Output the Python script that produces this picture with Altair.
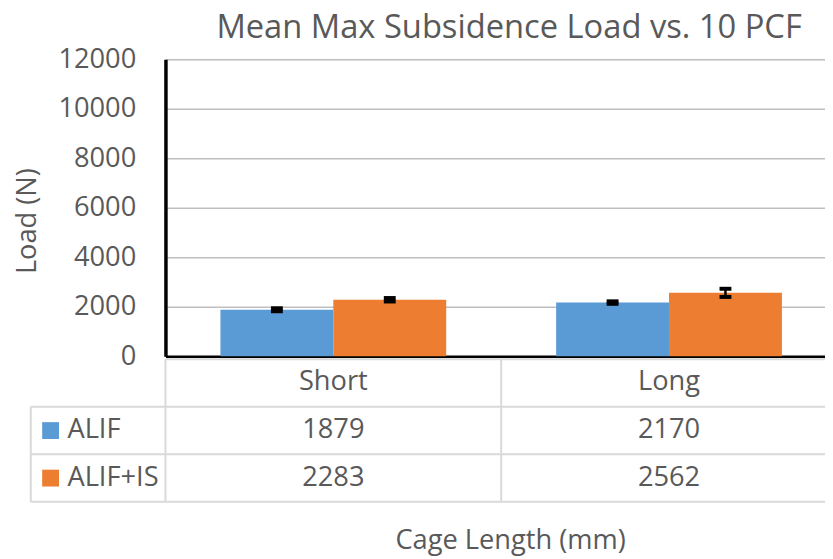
import altair as alt
import pandas as pd

categories = ["Short", "Long"]
series = ["ALIF", "ALIF+IS"]
alif_mean = [1879, 2170]
alif_is_mean = [2283, 2562]
alif_err = [60, 50]
alif_is_err = [70, 165]
y_ticks = [0, 2000, 4000, 6000, 8000, 10000, 12000]
colors = ["#5B9BD5", "#ED7D31"]

rows = []
for i, c in enumerate(categories):
    rows.append(dict(cat=c, series="ALIF", value=alif_mean[i], err=alif_err[i]))
    rows.append(dict(cat=c, series="ALIF+IS", value=alif_is_mean[i], err=alif_is_err[i]))
df = pd.DataFrame(rows)
df["lo"] = df["value"] - df["err"]
df["hi"] = df["value"] + df["err"]
df["label"] = df["value"].astype(str)
cats_df = pd.DataFrame({"cat": categories})

FONT = "Open Sans"
TXT = "#595959"
GRID = "#BFBFBF"
TABLE = "#D9D9D9"
FS = 27.5

x_scale = alt.Scale(domain=categories, range=[0, 678], paddingInner=0, paddingOuter=0)
x_axis = alt.Axis(
    title="Cage Length (mm)", titleFont=FONT, titleFontSize=FS, titleColor=TXT,
    titleFontWeight="normal", titleX=348, titleY=186, titleBaseline="middle",
    titleAlign="center",
    labelFont=FONT, labelFontSize=FS, labelColor=TXT, labelPadding=26,
    labelBaseline="middle", labelAngle=0,
    ticks=False, grid=False, domainColor="black", domainWidth=2.5,
)
y_scale = alt.Scale(domain=[0, 12000])
y_axis = alt.Axis(
    title="Load (N)", titleFont=FONT, titleFontSize=FS, titleColor=TXT,
    titleFontWeight="normal", titleX=-139, titleY=163, titleAngle=270,
    titleAlign="center", titleBaseline="middle", format="d",
    values=y_ticks, labelFont=FONT, labelFontSize=FS, labelColor=TXT,
    labelPadding=30, ticks=False, grid=True, gridColor=GRID, gridWidth=1.5,
    domainColor="black", domainWidth=3.5,
)

X = alt.X("cat:N", sort=categories, scale=x_scale, axis=x_axis)
Y_ENC = lambda f: alt.Y(f, type="quantitative", scale=y_scale, axis=y_axis)
XO = alt.XOffset("series:N", sort=series,
                 scale=alt.Scale(domain=series, paddingOuter=0.487, paddingInner=0))

bars = alt.Chart(df).mark_bar().encode(
    x=X, xOffset=XO, y=Y_ENC("value"),
    color=alt.Color("series:N", scale=alt.Scale(domain=series, range=colors), legend=None),
)
err_rule = alt.Chart(df).mark_rule(color="black", strokeWidth=2.5).encode(
    x=X, xOffset=XO, y=Y_ENC("lo"), y2="hi")
cap_hi = alt.Chart(df).mark_tick(color="black", thickness=4, size=12, opacity=1).encode(
    x=X, xOffset=XO, y=Y_ENC("hi"))
cap_lo = alt.Chart(df).mark_tick(color="black", thickness=4, size=12, opacity=1).encode(
    x=X, xOffset=XO, y=Y_ENC("lo"))

one = alt.Data(values=[{"k": 1}])

def hline(y, x1, x2):
    return alt.Chart(one).mark_rule(color=TABLE, strokeWidth=2).encode(
        x=alt.value(x1), x2=alt.value(x2), y=alt.value(y))

def vline(x, y1, y2):
    return alt.Chart(one).mark_rule(color=TABLE, strokeWidth=2).encode(
        x=alt.value(x), y=alt.value(y1), y2=alt.value(y2))

row_y = [375, 423]
layers = [
    hline(303, 0, 700), hline(351, -136, 700), hline(399, -136, 700), hline(447, -136, 700),
    vline(-136, 351, 447),
    alt.Chart(cats_df).mark_rule(color=TABLE, strokeWidth=2).encode(
        x=alt.X("cat:N", sort=categories, scale=x_scale, axis=x_axis, bandPosition=0),
        y=alt.value(303), y2=alt.value(447)),
    bars, err_rule, cap_hi, cap_lo,
]
for i, s in enumerate(series):
    layers.append(
        alt.Chart(df).transform_filter(alt.datum.series == s).mark_text(
            font=FONT, fontSize=FS, color=TXT, baseline="middle", align="center"
        ).encode(x=X, y=alt.value(row_y[i]), text="label:N"))
    sdf = pd.DataFrame({"series": [s]})
    layers.append(
        alt.Chart(sdf).mark_square(size=289, opacity=1, color=colors[i]).encode(
            x=alt.value(-116), y=alt.value(row_y[i])))
    layers.append(
        alt.Chart(sdf).mark_text(font=FONT, fontSize=FS, color=TXT, baseline="middle",
                                 align="left").encode(
            x=alt.value(-99), y=alt.value(row_y[i]), text="series:N"))

chart = alt.layer(*layers).properties(
    width=666, height=300,
    title=alt.TitleParams("Mean Max Subsidence Load vs. 10 PCF", font=FONT, fontSize=33,
                          color=TXT, fontWeight="normal", anchor="middle", dx=14, dy=4),
    autosize=alt.AutoSizeParams(type="none"),
    padding={"left": 159, "top": 49, "right": 0, "bottom": 202},
).configure_view(stroke=None).configure(background="white")

chart.save("out.html", embed_options={"renderer": "svg", "actions": False})
